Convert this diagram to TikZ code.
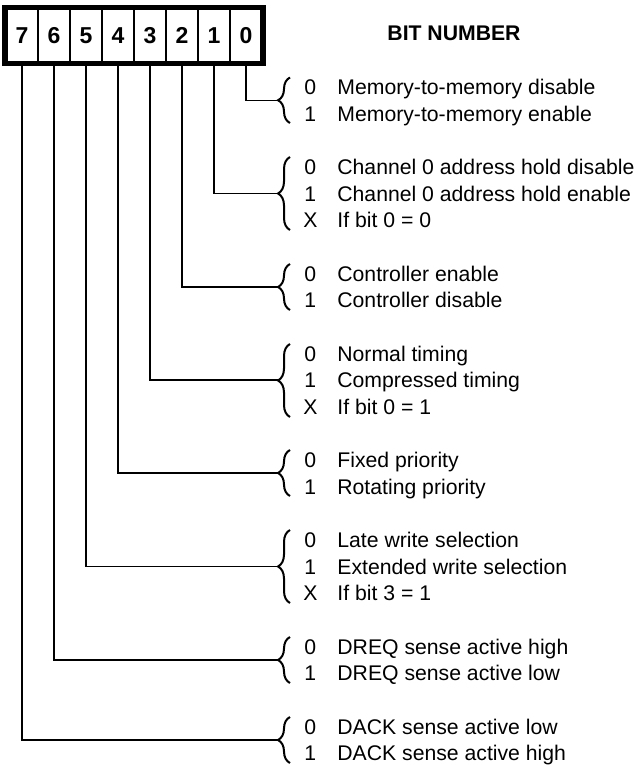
\documentclass[tikz,border=0pt]{standalone}
\usepackage{fontspec}
\setmainfont{Liberation Sans}
\usetikzlibrary{decorations.pathreplacing}
\tikzset{
  cell/.style={draw, line width=1pt, minimum width=16pt, minimum height=27pt, inner sep=0, font=\fontsize{11.5}{13}\selectfont\bfseries},
  val/.style={anchor=west, inner sep=0, text height=7.6pt, text depth=0pt},
  lead/.style={line width=0.6pt},
  brc/.style={line width=1pt, decorate, decoration={brace, amplitude=6pt}}
}
\begin{document}
\begin{tikzpicture}[x=0.5pt, y=-0.5pt, font=\fontsize{10.6}{12}\selectfont]
\useasboundingbox (0,0) rectangle (637,765);
% register
\foreach \b [count=\i from 0] in {7,6,5,4,3,2,1,0}
  \node[cell] (b\b) at (22+32*\i,35.5) {\b};
\draw[line width=2.6pt] (b7.north west) rectangle (b0.south east);
\node[font=\fontsize{10.6}{12}\selectfont\bfseries] (title) at (454,33) {BIT NUMBER};
% brace tips
\coordinate (t0) at (278,100.5);
\coordinate (t1) at (278,193.5);
\coordinate (t2) at (278,287);
\coordinate (t3) at (278,380);
\coordinate (t4) at (278,473);
\coordinate (t5) at (278,566.5);
\coordinate (t6) at (278,660);
\coordinate (t7) at (278,740);
\draw[brc] (290,123) -- (290,77.5);
\draw[brc] (290,230) -- (290,157);
\draw[brc] (290,310) -- (290,264);
\draw[brc] (290,417) -- (290,344);
\draw[brc] (290,496) -- (290,450);
\draw[brc] (290,603) -- (290,530);
\draw[brc] (290,683) -- (290,637);
\draw[brc] (290,763) -- (290,717);
% leaders
\draw[lead] (b0.south) |- (t0);
\draw[lead] (b1.south) |- (t1);
\draw[lead] (b2.south) |- (t2);
\draw[lead] (b3.south) |- (t3);
\draw[lead] (b4.south) |- (t4);
\draw[lead] (b5.south) |- (t5);
\draw[lead] (b6.south) |- (t6);
\draw[lead] (b7.south) |- (t7);
% settings
\node[val] (v00) at (304,87) {0};
\node[val] (d00) at (337,87) {Memory-to-memory disable};
\node[val] (v01) at (304,113.6) {1};
\node[val] (d01) at (337,113.6) {Memory-to-memory enable};
\node[val] (v10) at (304,166.9) {0};
\node[val] (d10) at (337,166.9) {Channel 0 address hold disable};
\node[val] (v11) at (304,193.6) {1};
\node[val] (d11) at (337,193.6) {Channel 0 address hold enable};
\node[val] (v1x) at (303,220.2) {X};
\node[val] (d1x) at (337,220.2) {If bit 0 = 0};
\node[val] (v20) at (304,273.5) {0};
\node[val] (d20) at (337,273.5) {Controller enable};
\node[val] (v21) at (304,300.1) {1};
\node[val] (d21) at (337,300.1) {Controller disable};
\node[val] (v30) at (304,353.4) {0};
\node[val] (d30) at (337,353.4) {Normal timing};
\node[val] (v31) at (304,380) {1};
\node[val] (d31) at (337,380) {Compressed timing};
\node[val] (v3x) at (303,406.7) {X};
\node[val] (d3x) at (337,406.7) {If bit 0 = 1};
\node[val] (v40) at (304,460) {0};
\node[val] (d40) at (337,460) {Fixed priority};
\node[val] (v41) at (304,486.6) {1};
\node[val] (d41) at (337,486.6) {Rotating priority};
\node[val] (v50) at (304,539.9) {0};
\node[val] (d50) at (337,539.9) {Late write selection};
\node[val] (v51) at (304,566.5) {1};
\node[val] (d51) at (337,566.5) {Extended write selection};
\node[val] (v5x) at (303,593.2) {X};
\node[val] (d5x) at (337,593.2) {If bit 3 = 1};
\node[val] (v60) at (304,646.4) {0};
\node[val] (d60) at (337,646.4) {DREQ sense active high};
\node[val] (v61) at (304,673.1) {1};
\node[val] (d61) at (337,673.1) {DREQ sense active low};
\node[val] (v70) at (304,726.4) {0};
\node[val] (d70) at (337,726.4) {DACK sense active low};
\node[val] (v71) at (304,753) {1};
\node[val] (d71) at (337,753) {DACK sense active high};
\end{tikzpicture}
\end{document}
